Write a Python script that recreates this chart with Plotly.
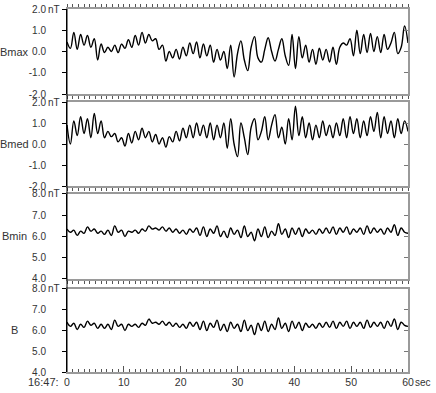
import numpy as np
import plotly.graph_objects as go

# sampling times (s after 16:47:00)
t = np.round(np.arange(0, 60.0001, 0.6), 2)

bmax = [0.45, 0.15, 0.9, 0.1, 0.8, 0.3, 0.75, 0.2, 0.6, -0.4,
        0.35, -0.05, 0.2, 0.0, 0.3, -0.05, 0.35, 0.15, 0.55, 0.2,
        0.75, 0.3, 0.9, 0.4, 0.8, 0.5, 0.6, 0.1, 0.3, -0.45,
        0.0, -0.3, 0.1, -0.35, 0.2, -0.2, 0.4, -0.1, 0.45, -0.3,
        0.35, -0.2, 0.3, -0.5, 0.1, -0.4, 0.0, -0.8, 0.3, -1.2,
        -0.1, 0.5, -0.4, -0.9, 0.2, 0.7, -0.3, -0.5, 0.1, 0.65,
        0.0, -0.45, 0.1, 0.6, -0.2, -0.65, 0.8, -0.8, 0.7, -0.3,
        0.3, -0.5, 0.1, -0.6, 0.15, -0.4, 0.1, -0.5, 0.2, -0.6,
        0.2, 0.4, 0.3, 0.6, -0.2, 1.0, -0.1, 0.8, -0.05, 0.85,
        0.0, 0.7, -0.05, 0.8, 0.1, 0.4, 0.9, -0.1, 0.2, 1.2, 0.4]

bmed = [0.9, 0.0, 1.1, 0.4, 1.3, 0.5, 1.2, 0.3, 1.45, 0.5,
        1.1, 0.3, 0.6, 0.35, 0.5, 0.1, 0.3, -0.1, 0.5, 0.05,
        0.6, 0.2, 0.75, 0.3, 0.6, 0.1, 0.45, 0.0, 0.3, -0.15,
        0.35, 0.1, 0.6, 0.15, 0.75, 0.3, 0.9, 0.3, 1.0, 0.4,
        0.9, 0.3, 1.0, 0.2, 0.9, 0.3, 1.0, -0.2, 1.2, 0.0,
        -0.6, 1.0, 0.3, -0.5, 0.8, 1.2, 0.2, 0.6, 1.3, 0.2,
        0.9, 1.4, 0.3, 0.8, 0.0, 1.2, 0.2, 1.8, 0.4, 1.3,
        0.3, 1.0, 0.2, 0.9, 0.3, 1.1, 0.4, 0.9, 0.3, 1.0,
        0.4, 1.2, 0.3, 1.3, 0.5, 1.2, 0.3, 1.1, 0.4, 1.3,
        0.6, 1.5, 0.3, 1.3, 0.5, 1.1, 0.3, 1.2, 0.5, 1.1, 0.6]

bmin = [6.35, 6.2, 6.3, 6.05, 6.25, 6.15, 6.45, 6.25, 6.35, 6.15,
        6.25, 6.1, 6.3, 6.05, 6.5, 6.2, 6.3, 6.0, 6.25, 6.2,
        6.3, 6.15, 6.35, 6.25, 6.5, 6.35, 6.4, 6.3, 6.45, 6.25,
        6.4, 6.2, 6.35, 6.15, 6.3, 6.1, 6.35, 6.2, 6.4, 6.05,
        6.45, 6.0, 6.35, 6.15, 6.5, 6.0, 6.25, 5.95, 6.4, 6.1,
        6.3, 5.95, 6.5, 6.0, 6.2, 5.8, 6.35, 6.0, 6.45, 5.95,
        6.25, 6.05, 6.6, 6.1, 6.35, 5.95, 6.4, 6.1, 6.4, 6.0,
        6.35, 6.15, 6.3, 6.1, 6.35, 6.15, 6.4, 6.15, 6.45, 6.1,
        6.4, 6.2, 6.45, 6.1, 6.35, 6.2, 6.4, 6.1, 6.5, 6.15,
        6.4, 6.2, 6.35, 6.1, 6.4, 6.2, 6.55, 6.05, 6.4, 6.2, 6.15]

btot = [6.4, 6.2, 6.35, 6.05, 6.3, 6.15, 6.45, 6.25, 6.35, 6.1,
        6.3, 6.1, 6.3, 6.05, 6.5, 6.2, 6.3, 6.0, 6.3, 6.2,
        6.3, 6.15, 6.35, 6.25, 6.55, 6.35, 6.4, 6.3, 6.45, 6.25,
        6.4, 6.2, 6.35, 6.15, 6.3, 6.1, 6.4, 6.2, 6.4, 6.05,
        6.45, 6.0, 6.35, 6.15, 6.5, 6.0, 6.3, 5.95, 6.4, 6.1,
        6.3, 5.95, 6.5, 6.0, 6.25, 5.8, 6.35, 6.0, 6.45, 5.95,
        6.3, 6.05, 6.6, 6.1, 6.35, 5.95, 6.45, 6.1, 6.4, 6.0,
        6.35, 6.15, 6.3, 6.1, 6.35, 6.15, 6.4, 6.15, 6.45, 6.1,
        6.4, 6.2, 6.45, 6.1, 6.4, 6.2, 6.4, 6.1, 6.5, 6.15,
        6.4, 6.2, 6.4, 6.1, 6.45, 6.2, 6.55, 6.05, 6.4, 6.25, 6.2]

names = ["Bmax", "Bmed", "Bmin", "B"]
series = [bmax, bmed, bmin, btot]
ranges = [[-2, 2], [-2, 2], [4, 8], [4, 8]]
ytickvals = [[-2, -1, 0, 1, 2], [-2, -1, 0, 1, 2], [4, 5, 6, 7, 8], [4, 5, 6, 7, 8]]
yticktext = [["-2.0", "-1.0", "0.0", "1.0", "2.0"], ["-2.0", "-1.0", "0.0", "1.0", "2.0"],
             ["4.0", "5.0", "6.0", "7.0", "8.0"], ["4.0", "5.0", "6.0", "7.0", "8.0"]]
xtickvals = [0, 10, 20, 30, 40, 50, 60]
xticktext = ["0", "10", "20", "30", "40", "50", "60"]

domains = [[0.7658, 1.0], [0.5124, 0.7438], [0.2562, 0.4904], [0.0, 0.2287]]

FONT = "Liberation Sans, Arial, sans-serif"
TXT = "#333333"
GRAY = "#9a9a9a"

fig = go.Figure()
layout = dict(
    width=436, height=393,
    margin=dict(l=67, r=28, t=9, b=21),
    paper_bgcolor="white", plot_bgcolor="white",
    showlegend=False,
    font=dict(family=FONT, size=10, color=TXT),
)

annotations = []
for i in range(4):
    k = i + 1
    xs = "x" if k == 1 else f"x{k}"
    ys = "y" if k == 1 else f"y{k}"
    fig.add_trace(go.Scatter(x=t, y=series[i], mode="lines", xaxis=xs, yaxis=ys,
                             line=dict(color="black", width=1.4, shape="spline", smoothing=1.1),
                             hoverinfo="skip"))
    # overlay right axis
    ro = 4 + k
    fig.add_trace(go.Scatter(x=[], y=[], xaxis=xs, yaxis=f"y{ro}", hoverinfo="skip"))
    last = (k == 4)
    xa = dict(domain=[0, 1], range=[0, 60], anchor=ys, automargin=False,
              showgrid=False, zeroline=False, showline=True, linecolor=GRAY, linewidth=1.5,
              mirror=("ticks" if k == 1 else True),
              tickvals=xtickvals, ticktext=xticktext,
              showticklabels=last,
              ticks=("inside" if last else "outside"), ticklen=(6 if last else 3),
              tickcolor="#555555", tickwidth=1,
              minor=dict(dtick=1, ticks=("inside" if last else "outside"),
                         ticklen=3, tickcolor="#555555", tickwidth=1),
              tickfont=dict(family=FONT, size=10.5, color=TXT))
    if k > 1:
        xa["matches"] = "x"
    ya = dict(domain=domains[i], range=ranges[i], anchor=xs, automargin=False,
              showgrid=False, zeroline=False, showline=True, linecolor="black", linewidth=1,
              tickvals=ytickvals[i], ticktext=yticktext[i], ticks="outside", ticklen=4,
              tickcolor="black", ticklabelstandoff=14,
              tickfont=dict(family=FONT, size=10, color=TXT))
    yr = dict(overlaying=ys, side="right", anchor=xs, range=ranges[i], automargin=False,
              showgrid=False, zeroline=False, showline=True, linecolor=GRAY, linewidth=1.5,
              tickvals=ytickvals[i], ticks="inside", ticklen=4, tickcolor="#777777",
              showticklabels=False)
    layout["xaxis" if k == 1 else f"xaxis{k}"] = xa
    layout["yaxis" if k == 1 else f"yaxis{k}"] = ya
    layout[f"yaxis{ro}"] = yr
    # panel name
    annotations.append(dict(text=names[i], xref="paper", yref=ys,
                            x=(14 - 67) / 341, y=(ranges[i][0] + ranges[i][1]) / 2,
                            xanchor="center", yanchor="middle", showarrow=False,
                            font=dict(family=FONT, size=11, color=TXT)))
    annotations.append(dict(text="nT", xref="paper", yref=ys,
                            x=(46 - 67) / 341, y=ranges[i][1],
                            xanchor="left", yanchor="middle", showarrow=False,
                            font=dict(family=FONT, size=10, color=TXT)))

annotations.append(dict(text="16:47:", xref="paper", yref="paper",
                        x=(61 - 67) / 341, y=-10 / 363, xanchor="right", yanchor="middle",
                        showarrow=False, font=dict(family=FONT, size=11, color=TXT)))
annotations.append(dict(text="sec", xref="paper", yref="paper",
                        x=(413 - 67) / 341, y=-10 / 363, xanchor="left", yanchor="middle",
                        showarrow=False, font=dict(family=FONT, size=10, color=TXT)))
layout["annotations"] = annotations
layout["shapes"] = [dict(type="line", xref="paper", yref="paper", x0=0, x1=0, y0=0, y1=1,
                         line=dict(color="black", width=1))]
fig.update_layout(**layout)
fig.write_html("out.html")
